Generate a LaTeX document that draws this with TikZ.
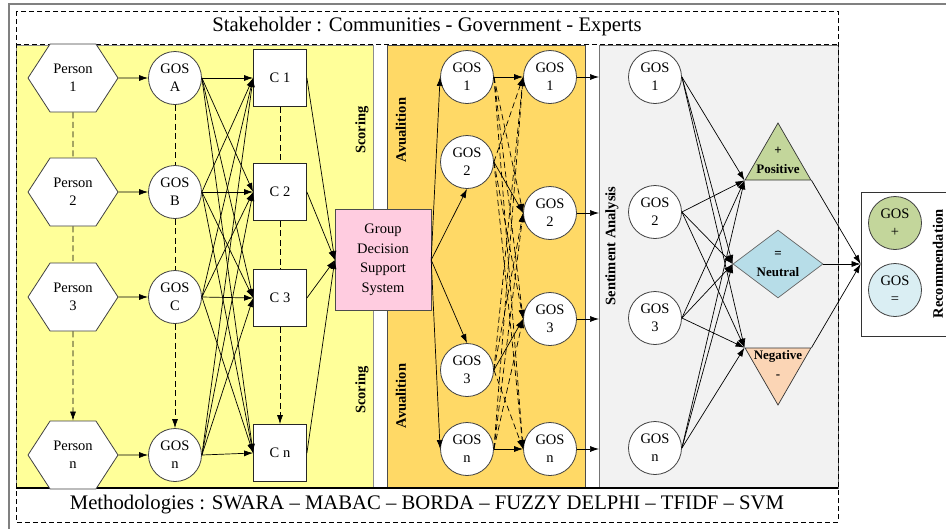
\documentclass[tikz,border=0pt]{standalone}
\usepackage{fontspec}
\setmainfont{Liberation Serif}
\usetikzlibrary{shapes.geometric,shapes.symbols,arrows.meta}
\definecolor{gul}{HTML}{FFFF99}
\definecolor{oransje}{HTML}{FFD966}
\definecolor{graa}{HTML}{F2F2F2}
\definecolor{rosa}{HTML}{FFCCE0}
\definecolor{gronn}{HTML}{C3D69B}
\definecolor{blaa}{HTML}{B7DDE8}
\definecolor{lysblaa}{HTML}{DAEEF3}
\definecolor{fersken}{HTML}{FBD5B5}

\begin{document}
\begin{tikzpicture}[
    x=1pt, y=-1pt,
    every node/.style={font=\fontsize{14.5}{18}\selectfont, align=center},
    person/.style={signal, signal to=east and west, signal pointer angle=114,
        draw=black!75, fill=white, minimum width=90pt, minimum height=68pt,
        inner sep=0pt, line width=0.8pt},
    sirkel/.style={circle, draw=black!75, fill=white, minimum size=53pt,
        inner sep=0pt, line width=0.8pt},
    kasse/.style={rectangle, draw=black!85, fill=white, minimum width=53pt,
        minimum height=57pt, inner sep=0pt, line width=0.8pt},
    pil/.style={-{Latex[length=9pt,width=6pt]}, line width=0.7pt},
    stipl/.style={dash pattern=on 6pt off 3.5pt, line width=0.7pt},
    sidetekst/.style={rotate=90, font=\fontsize{14.5}{17}\selectfont\bfseries},
    etikett/.style={font=\fontsize{13}{19}\selectfont\bfseries, inner sep=0pt}
    ]
\useasboundingbox (0,0) rectangle (946,528);

%Frame and panels
\draw[black!50, line width=1.5pt] (9,545) -- (9,4) -- (960,4);
\filldraw[fill=gul, draw=black!45, line width=0.8pt] (16,45) rectangle (373,488);
\filldraw[fill=oransje, draw=black!70, line width=0.8pt] (387,45) rectangle (585,488);
\filldraw[fill=graa, draw=black!55, line width=0.8pt] (599,45) rectangle (838,488);
\draw[dash pattern=on 5pt off 3pt, line width=0.8pt] (16,11) rectangle (838,522);
\draw[dash pattern=on 5pt off 3pt, line width=0.8pt] (16,44) -- (838,44);
\draw[line width=1.2pt] (16,488) -- (838,488);

\node (tittel) at (427,27) {\fontsize{20.7}{24}\selectfont Stakeholder : Communities - Government - Experts};
\node (metode) at (427,505) {\fontsize{20.7}{24}\selectfont Methodologies : SWARA -- MABAC -- BORDA -- FUZZY DELPHI -- TFIDF -- SVM};

%Persons, GOS and criteria
\node[person] (p1) at (73,78) {Person\\1};
\node[person] (p2) at (73,192) {Person\\2};
\node[person] (p3) at (73,297) {Person\\3};
\node[person] (pn) at (73,455) {Person\\n};
\node[sirkel] (g1) at (175,78) {GOS\\A};
\node[sirkel] (g2) at (175,192) {GOS\\B};
\node[sirkel] (g3) at (175,297) {GOS\\C};
\node[sirkel] (gn) at (175,455) {GOS\\n};
\node[kasse] (c1) at (280,78) {C 1};
\node[kasse] (c2) at (280,192) {C 2};
\node[kasse] (c3) at (280,298) {C 3};
\node[kasse] (cn) at (280,453) {C n};
\node[sidetekst] (skar1) at (362,130) {Scoring};
\node[sidetekst] (skar2) at (362,390) {Scoring};

\node[rectangle, draw=black!70, fill=rosa, minimum width=96pt, minimum height=101pt,
    inner sep=0pt, font=\fontsize{14.5}{19.5}\selectfont] (gdss) at (383,260)
    {Group\\Decision\\Support\\System};

%Avualition
\node[sidetekst] (ava1) at (401,130) {Avualition};
\node[sidetekst] (ava2) at (401,396) {Avualition};
\node[sirkel] (a1) at (467,77) {GOS\\1};
\node[sirkel] (a2) at (467,162) {GOS\\2};
\node[sirkel] (a3) at (467,370) {GOS\\3};
\node[sirkel] (an) at (467,449) {GOS\\n};
\node[sirkel] (b1) at (550,77) {GOS\\1};
\node[sirkel] (b2) at (550,213) {GOS\\2};
\node[sirkel] (b3) at (550,319) {GOS\\3};
\node[sirkel] (bn) at (550,449) {GOS\\n};
\coordinate (e1) at (599,77);
\coordinate (e2) at (599,213);
\coordinate (e3) at (599,319);
\coordinate (en) at (599,449);

%Sentiment analysis
\node[sidetekst] (senti) at (612,246) {Sentiment Analysis};
\node[sirkel] (s1) at (655,77) {GOS\\1};
\node[sirkel] (s2) at (655,212) {GOS\\2};
\node[sirkel] (s3) at (655,318) {GOS\\3};
\node[sirkel] (sn) at (655,448) {GOS\\n};
\node[regular polygon, regular polygon sides=3, draw=black!80, fill=gronn,
    minimum size=76pt, inner sep=0pt, line width=0.7pt] (pos) at (778,161) {};
\node[etikett] (postekst) at (778,160) {+\\Positive};
\node[diamond, draw=black!60, fill=blaa, minimum width=90pt, minimum height=66pt,
    inner sep=0pt, line width=0.7pt, font=\fontsize{13}{19}\selectfont\bfseries]
    (neu) at (778,264) {=\\Neutral};
\node[regular polygon, regular polygon sides=3, shape border rotate=180,
    draw=black!80, fill=fersken, minimum size=76pt, inner sep=0pt,
    line width=0.7pt] (neg) at (778,367) {};
\node[etikett] (negtekst) at (778,364) {Negative\\-};

%Recommendation
\node[rectangle, draw=black!80, fill=white, minimum width=91pt, minimum height=144pt,
    line width=0.8pt] (rek) at (906.5,264) {};
\node[sirkel, fill=gronn] (rpos) at (895,223) {GOS\\+};
\node[sirkel, fill=lysblaa] (rneu) at (895,290) {GOS\\=};
\node[sidetekst] (rektekst) at (938,264) {Recommendation};

%Connectors, yellow part
\draw[stipl] (p1) -- (p2) -- (p3);
\draw[stipl, pil] (p3) -- (pn);
\draw[stipl] (g1) -- (g2) -- (g3);
\draw[stipl, pil] (g3) -- (gn);
\draw[stipl] (c1) -- (c2) -- (c3);
\draw[stipl, pil] (c3) -- (cn);
\foreach \i in {1,2,3,n}{
    \draw[pil] (p\i) -- (g\i);
    \foreach \j in {1,2,3,n}
        \draw[pil] (g\i.east) -- (c\j.west);
    \draw[pil] (c\i.east) -- (gdss.west);
}

%Connectors, orange part
\draw[pil] (gdss.east) -- (a1.west);
\draw[pil] (gdss.east) -- (a2.south);
\draw[pil] (gdss.east) -- (a3.north);
\draw[pil] (gdss.east) -- (an.west);
\foreach \i in {1,2,3,n}{
    \foreach \j in {1,2,3,n}{
        \ifx\i\j
            \draw[pil] (a\i.east) -- (b\j.west);
        \else
            \draw[pil, stipl] (a\i.east) -- (b\j.west);
        \fi
    }
    \draw[pil] (b\i.east) -- (e\i);
}

%Connectors, grey part
\foreach \i in {1,2,3,n}{
    \draw[pil] (s\i.east) -- (pos.corner 2);
    \draw[pil] (s\i.east) -- (neu.west);
    \draw[pil] (s\i.east) -- (neg.corner 3);
}
\draw[pil] (pos.corner 3) -- (rek.west);
\draw[pil] (neu.east) -- (rek.west);
\draw[pil] (neg.corner 2) -- (rek.west);
\end{tikzpicture}
\end{document}
